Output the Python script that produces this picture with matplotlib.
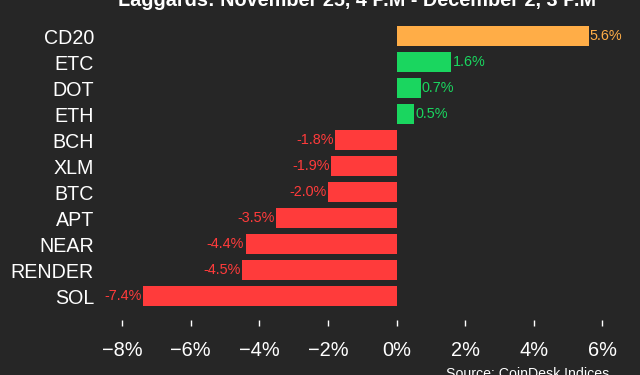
import matplotlib
matplotlib.use("Agg")
import matplotlib.pyplot as plt

plt.rcParams['font.family'] = ['Liberation Sans', 'DejaVu Sans']

assets = ["CD20", "ETC", "DOT", "ETH", "BCH", "XLM", "BTC", "APT", "NEAR", "RENDER", "SOL"]
changes = [5.6, 1.6, 0.7, 0.5, -1.8, -1.9, -2.0, -3.5, -4.4, -4.5, -7.4]
xticks = [-8, -6, -4, -2, 0, 2, 4, 6]

bg = "#262626"
orange = "#ffad47"
green = "#1ad65f"
red = "#ff3b3b"

colors = []
for name, v in zip(assets, changes):
    if name == "CD20":
        colors.append(orange)
    elif v >= 0:
        colors.append(green)
    else:
        colors.append(red)

W, H = 640, 375
fig = plt.figure(figsize=(6.4, 3.75), dpi=100, facecolor=bg)
ax = fig.add_axes([105 / W, 1 - 326 / H, 535 / W, 303 / H], facecolor=bg)

ypos = list(range(len(assets)))
ax.barh(ypos, changes, height=0.8, color=colors)
ax.set_xlim(-8.5, 7.1)
ax.set_ylim(11.15, -0.5)

# value labels next to the bar ends
for y, v, c in zip(ypos, changes, colors):
    if v >= 0:
        ax.text(v + 0.04, y, f"{v:.1f}%", color=c, fontsize=10.4, va="center", ha="left")
    else:
        ax.text(v - 0.04, y, f"{v:.1f}%", color=c, fontsize=10.4, va="center", ha="right")

ax.set_yticks(ypos)
ax.set_yticklabels(assets)
ax.set_xticks(xticks)
ax.set_xticklabels([f"{t}%".replace("-", "\u2212") for t in xticks])
ax.tick_params(axis="y", length=0, pad=8, labelsize=14.1, labelcolor="white")
ax.tick_params(axis="x", direction="in", length=4, width=1, color="white", pad=11,
               labelsize=14.4, labelcolor="white")
for s in ax.spines.values():
    s.set_visible(False)

fig.text(357 / W, 1 - 6.5 / H, "Laggards: November 25, 4 P.M - December 2, 3 P.M",
         color="white", fontsize=14.3, fontweight="bold", ha="center", va="baseline")
fig.text(446 / W, 1 - 367 / H, "Source: CoinDesk Indices", color="white",
         fontsize=10.2, ha="left", va="top")

fig.savefig("out.png", dpi=100, facecolor=bg)
